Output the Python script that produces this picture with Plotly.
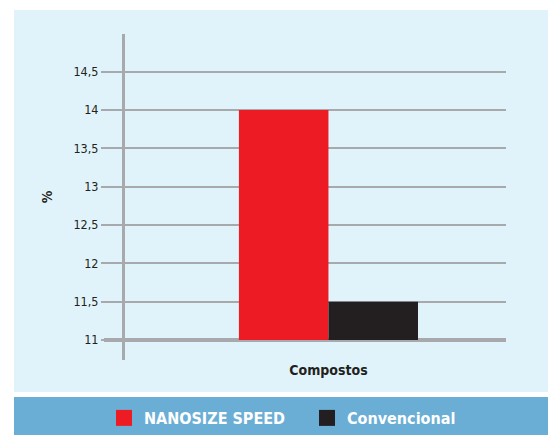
import plotly.graph_objects as go

# ---- data ----
categories = ["Compostos"]
series_names = ["NANOSIZE SPEED", "Convencional"]
series_values = [[14.0], [11.5]]
series_colors = ["#ed1c24", "#231f20"]
tick_values = [11, 11.5, 12, 12.5, 13, 13.5, 14, 14.5]
tick_labels = ["11", "11,5", "12", "12,5", "13", "13,5", "14", "14,5"]
y_axis_title = "%"
baseline = tick_values[0]

FONT = "Liberation Sans Narrow, DejaVu Sans Condensed, Arial Narrow, sans-serif"
GRAY = "#a7a9ac"
PANEL = "#e1f3fa"
BAND = "#6aaed6"
TEXT = "#231f20"

W, H = 548, 435
L, R, T, B = 125, 42, 34, 75
pw, ph = W - L - R, H - T - B


def px_x(x):
    return (x - L) / pw


def px_y(y):
    return (H - B - y) / ph


fig = go.Figure()
for name, vals, col in zip(series_names, series_values, series_colors):
    fig.add_trace(go.Bar(x=categories, y=[v - baseline for v in vals], base=baseline,
                         name=name, marker=dict(color=col, line=dict(width=0)),
                         showlegend=False))
    fig.add_trace(go.Scatter(x=[None], y=[None], mode="markers", name=name,
                             marker=dict(symbol="square", size=16, color=col,
                                         line=dict(width=0))))

shapes = [
    dict(type="rect", xref="paper", yref="paper", x0=px_x(14), x1=px_x(W + 5),
         y0=px_y(392), y1=px_y(10), fillcolor=PANEL, line=dict(width=0), layer="below"),
    dict(type="rect", xref="paper", yref="paper", x0=px_x(14), x1=px_x(W + 5),
         y0=px_y(H + 5), y1=px_y(397), fillcolor=BAND, line=dict(width=0), layer="below"),
    dict(type="line", xref="paper", yref="y", x0=px_x(104), x1=1,
         y0=baseline, y1=baseline, line=dict(color=GRAY, width=4), layer="below"),
]

fig.update_layout(
    width=W, height=H,
    margin=dict(l=L, r=R, t=T, b=B, autoexpand=False),
    paper_bgcolor="white", plot_bgcolor="rgba(0,0,0,0)",
    barmode="group", bargap=0.53, bargroupgap=0,
    shapes=shapes,
    font=dict(family=FONT, color=TEXT, size=13),
    xaxis=dict(range=[-0.534, 0.466], showgrid=False, showline=False, zeroline=False,
               ticks="", tickfont=dict(family=FONT, size=14, color=TEXT, weight="bold"),
               fixedrange=True),
    yaxis=dict(range=[10.74, 14.99], tickvals=tick_values, ticktext=tick_labels,
               showgrid=True, gridcolor=GRAY, gridwidth=2, zeroline=False,
               showline=True, linecolor=GRAY, linewidth=3,
               ticks="outside", ticklen=21, tickwidth=2, tickcolor=GRAY,
               tickfont=dict(family=FONT, size=12.5, color=TEXT),
               title=dict(text=y_axis_title, font=dict(family=FONT, size=14, color=TEXT, weight="bold"),
                          standoff=18)),
    legend=dict(orientation="h", x=px_x(104), xanchor="left", y=px_y(418), yanchor="middle",
                bgcolor="rgba(0,0,0,0)", font=dict(family=FONT, size=16, color="white", weight="bold"),
                entrywidth=158, entrywidthmode="pixels", itemclick=False, itemdoubleclick=False),
)

fig.write_html("out.html", config={"displayModeBar": False},
               post_script="document.body.style.margin='0';document.body.style.overflow='hidden';")
